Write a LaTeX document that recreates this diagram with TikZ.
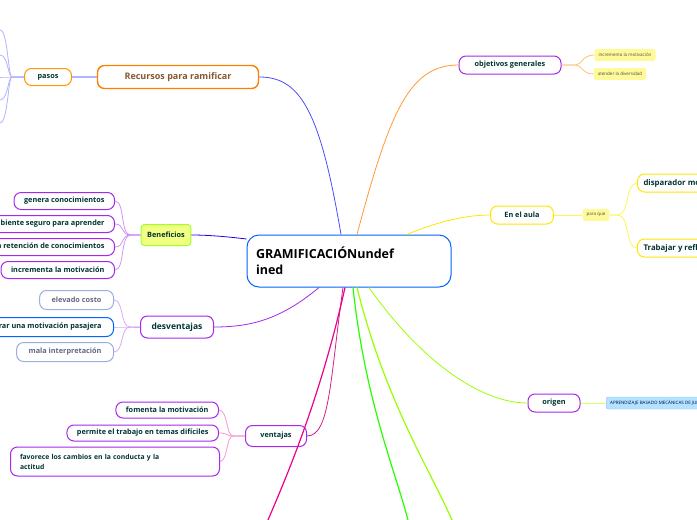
\documentclass[tikz,border=0pt]{standalone}
\usepackage{fontspec}
\setmainfont{Open Sans}
\definecolor{pv}{RGB}{165,40,235}
\begin{document}
\begin{tikzpicture}[x=1pt,y=-1pt,
 base/.style={rounded corners=7pt,line width=1pt,fill=white,inner xsep=6pt,inner ysep=0pt,minimum height=18pt,font=\fontsize{7.3}{8}\selectfont\bfseries,text=teal!40!black},
 purp/.style={base,draw=pv},
 smallfill/.style={rounded corners=2pt,inner xsep=4pt,minimum height=12pt,font=\fontsize{4.5}{5}\selectfont,text=black!70},
 lk/.style={line width=0.8pt}]
\useasboundingbox (0,0) rectangle (697,520);
\clip (0,0) rectangle (697,520);
% main
\node[base,draw=blue!60!cyan,minimum width=204pt,minimum height=52pt,rounded corners=12pt,font=\fontsize{12.5}{16}\selectfont\bfseries,text=black,align=left,text width=186pt] (main) at (349,261) {GRAMIFICACIÓNundef\\ined};
% Recursos
\node[base,draw=orange,line width=1.4pt,minimum width=161pt,minimum height=23pt,font=\fontsize{9}{10}\selectfont\bfseries,text=brown!70!black] (rec) at (178,77) {Recursos para ramificar};
\node[base,draw=orange!80!yellow,minimum width=47pt,minimum height=17pt] (pasos) at (48,77) {pasos};
\foreach \y/\n in {30/a,55/b,77/c,100/d,123/e}{\coordinate (p\n) at (0,\y);
 \draw[blue!30,lk] (pasos.west) -- ++(-12,0) .. controls (8,77) and (8,\y) .. (p\n);}
\draw[blue!30,lk,line width=1.5pt] (rec.west) -- (pasos.east);
\draw[blue!70,lk] (main.north) ++(-8,0) .. controls (320,110) and (300,77) .. (rec.east);
% objetivos
\node[purp,minimum width=102pt] (obj) at (510,65) {objetivos generales};
\node[smallfill,fill=yellow!40] (o1) at (625,55) {incrementa la motivación};
\node[smallfill,fill=yellow!40] (o2) at (620,74) {atender la diversidad};
\draw[orange!80,lk] (main.north) ++(8,0) .. controls (390,110) and (410,65) .. (obj.west);
\draw[orange!50,lk] (obj.east) -- ++(14,0) .. controls (582,65) and (582,55) .. (o1.west);
\draw[orange!50,lk] (obj.east) -- ++(14,0) .. controls (582,65) and (582,74) .. (o2.west);
% En el aula
\node[base,draw=yellow!90!orange,minimum width=63pt] (aula) at (522,215) {En el aula};
\node[smallfill,fill=yellow!40] (pq) at (596,215) {para que};
\node[base,draw=yellow!90!orange,anchor=west,minimum height=18pt,font=\fontsize{7.8}{9}\selectfont\bfseries] (disp) at (637,183) {disparador motivacional};
\node[base,draw=yellow!90!orange,anchor=west,minimum height=18pt,font=\fontsize{7.8}{9}\selectfont\bfseries] (trab) at (637,248) {Trabajar y reflexionar};
\draw[yellow!90!orange,lk] (main.north east) ++(-45,0) .. controls (430,225) and (460,215) .. (aula.west);
\draw[yellow!70,lk] (aula.east) -- (pq.west);
\draw[yellow!70,lk] (pq.east) -- ++(8,0) .. controls (630,215) and (625,183) .. (disp.west);
\draw[yellow!70,lk] (pq.east) -- ++(8,0) .. controls (630,215) and (625,248) .. (trab.west);
% origen
\node[purp,minimum width=52pt] (ori) at (554,403) {origen};
\node[smallfill,fill=blue!35!cyan!30,draw=blue!30,anchor=west,text=blue!30!black] (apr) at (606,403) {APRENDIZAJE BASADO MECÁNICAS DE JUEGO};
\draw[lime!80!green,lk] (main.south) ++(20,0) .. controls (420,360) and (480,403) .. (ori.west);
\draw[lime!60,lk] (ori.east) -- (apr.west);
% Beneficios
\node[base,draw=lime!70!green!80,fill=lime!40!yellow!50,rounded corners=3pt,minimum width=48pt,minimum height=21pt] (ben) at (166,235) {Beneficios};
\foreach \y/\t/\n in {201/genera conocimientos/b1,224/ambiente seguro para aprender/b2,247/mejora la retención de conocimientos/b3,270/incrementa la motivación/b4}{
 \node[purp,anchor=east,minimum height=17pt,inner xsep=10pt] (\n) at (115,\y) {\t};
 \draw[pv!50,lk] (ben.west) -- ++(-10,0) .. controls (120,235) and (125,\y) .. (\n.east);}
\draw[blue!70!violet,lk] (main.west) ++(0,-22) .. controls (230,237) and (210,235) .. (ben.east);
% desventajas
\node[purp,minimum width=73pt,minimum height=22pt,font=\fontsize{8.5}{10}\selectfont\bfseries] (des) at (177,327) {desventajas};
\node[base,draw=cyan!40!blue!40,anchor=east,minimum height=19pt,inner xsep=12pt,text=blue!20!black!60] (d1) at (114,300) {elevado costo};
\node[base,draw=blue!60!cyan,anchor=east,minimum height=19pt,inner xsep=12pt] (d2) at (114,327) {generar una motivación pasajera};
\node[base,draw=cyan!40!blue!40,anchor=east,minimum height=19pt,inner xsep=12pt,text=blue!20!black!60] (d3) at (114,352) {mala interpretación};
\foreach \n/\y in {d1/300,d2/327,d3/352}{\draw[pv!40,lk] (des.west) -- ++(-10,0) .. controls (120,327) and (124,\y) .. (\n.east);}
\draw[pv,lk] (main.south) ++(-30,0) .. controls (280,320) and (250,327) .. (des.east);
% ventajas
\node[purp,minimum width=61pt,minimum height=21pt] (ven) at (276,436) {ventajas};
\node[purp,anchor=east,minimum height=16pt,inner xsep=10pt] (v1) at (219,410) {fomenta la motivación};
\node[purp,anchor=east,minimum height=16pt,inner xsep=10pt] (v2) at (219,433) {permite el trabajo en temas difíciles};
\node[purp,anchor=west,minimum height=29pt,minimum width=209pt,text width=190pt,align=left,inner xsep=8pt,font=\fontsize{6.8}{10}\selectfont\bfseries] (v3) at (10,461.5) {favorece los cambios en la conducta y la\\actitud};
\foreach \n/\y in {v1/410,v2/433,v3/461}{\draw[magenta!40,lk] (ven.west) -- ++(-12,0) .. controls (226,436) and (228,\y) .. (\n.east);}
\draw[magenta!70!violet,lk] (main.south) ++(-6,0) .. controls (330,380) and (330,436) .. (ven.east);
% downward
\coordinate (e1) at (268,520); \coordinate (e2) at (408,520); \coordinate (e3) at (452,520);
\draw[magenta,line width=1.2pt] (main.south) ++(-4,0) .. controls (320,400) and (285,480) .. (e1);
\draw[green!80!lime,line width=1.2pt] (main.south) ++(4,0) .. controls (365,400) and (395,470) .. (e2);
\draw[lime!80!green,line width=1.2pt] (main.south) ++(8,0) .. controls (385,400) and (430,470) .. (e3);
\end{tikzpicture}
\end{document}
